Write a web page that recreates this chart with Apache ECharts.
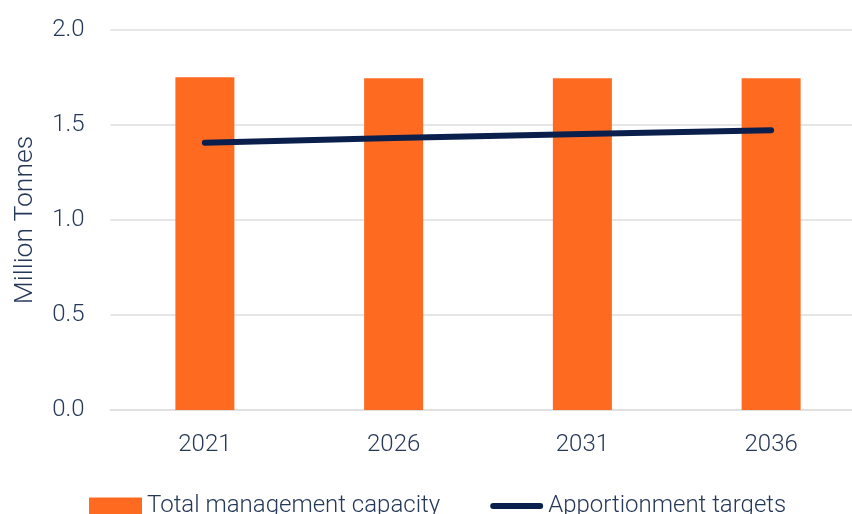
<!DOCTYPE html>
<html>
<head>
<meta charset="utf-8">
<script src="https://cdn.jsdelivr.net/npm/echarts@6/dist/echarts.min.js"></script>
<style>
html,body{margin:0;padding:0;background:#fff;overflow:hidden;}
#chart{width:866px;height:514px;}
</style>
</head>
<body>
<div id="chart"></div>
<script>
var categories = ['2021', '2026', '2031', '2036'];
var capacity = [1.751, 1.746, 1.746, 1.746];
var targets = [1.407, 1.432, 1.453, 1.472];
var yTicks = { min: 0, max: 2, interval: 0.5 };

var textColor = '#253858';
var fontFamily = 'Roboto';

var chart = echarts.init(document.getElementById('chart'), null, { renderer: 'canvas' });
chart.setOption({
  animation: false,
  backgroundColor: '#ffffff',
  textStyle: { fontFamily: fontFamily, color: textColor },
  grid: { left: 110.5, right: 0.5, top: 30, bottom: 104 },
  legend: {
    left: 89,
    top: 494,
    padding: 0,
    itemGap: 50,
    itemWidth: 53,
    itemHeight: 17,
    textStyle: { fontFamily: fontFamily, fontWeight: 300, fontSize: 24, color: textColor },
    data: [
      { name: 'Total management capacity', icon: 'rect' },
      { name: 'Apportionment targets', icon: 'path://M3,0 L50,0 A3,3 0 0 1 50,6 L3,6 A3,3 0 0 1 3,0 Z' }
    ]
  },
  xAxis: {
    type: 'category',
    data: categories,
    axisLine: { lineStyle: { color: '#e0e0e0', width: 2 } },
    axisTick: { show: false },
    axisLabel: { fontFamily: fontFamily, fontWeight: 300, fontSize: 24, color: textColor, margin: 23 }
  },
  yAxis: {
    type: 'value',
    min: yTicks.min,
    max: yTicks.max,
    interval: yTicks.interval,
    name: 'Million Tonnes',
    nameLocation: 'middle',
    nameGap: 72,
    nameTextStyle: { fontFamily: fontFamily, fontWeight: 300, fontSize: 26.5, color: textColor },
    axisLine: { show: false },
    axisTick: { show: false },
    splitLine: { lineStyle: { color: '#e6e6e6', width: 2 } },
    axisLabel: {
      fontFamily: fontFamily, fontWeight: 300, fontSize: 24, color: textColor, margin: 26,
      formatter: function (v) { return v.toFixed(1); }
    }
  },
  series: [
    {
      name: 'Total management capacity',
      type: 'bar',
      data: capacity,
      barWidth: 59,
      itemStyle: { color: '#ff6a21' }
    },
    {
      name: 'Apportionment targets',
      type: 'line',
      data: targets,
      symbol: 'none',
      lineStyle: { color: '#0b1f4d', width: 6, cap: 'round' },
      itemStyle: { color: '#0b1f4d' }
    }
  ]
});
</script>
</body>
</html>
